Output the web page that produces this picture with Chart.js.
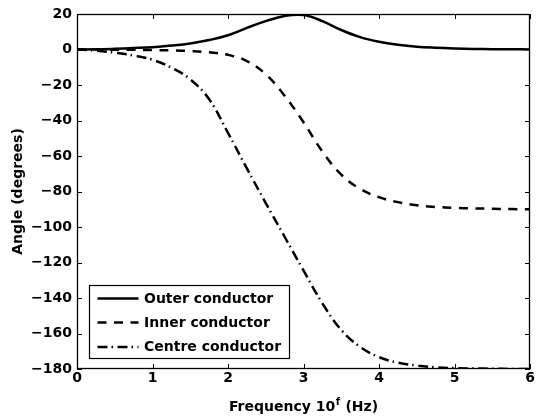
<!DOCTYPE html>
<html>
<head>
<meta charset="utf-8">
<script src="https://cdn.jsdelivr.net/npm/chart.js@4/dist/chart.umd.min.js"></script>
<style>
  html, body { margin: 0; padding: 0; background: #fff; }
  #wrap { width: 537px; height: 419px; position: relative; }
</style>
</head>
<body>
<div id="wrap"><canvas id="c"></canvas></div>
<script>
// Frequency exponent f (Hz = 10^f)
const freq = [0, 0.25, 0.5, 0.75, 1, 1.25, 1.5, 1.75, 2, 2.25, 2.5, 2.75, 3,
              3.25, 3.5, 3.75, 4, 4.25, 4.5, 4.75, 5, 5.25, 5.5, 5.75, 6];

// Phase angle (degrees) of each conductor
const outerAngle  = [0, 0.1, 0.4, 0.8, 1.3, 2.2, 3.4, 5.3, 8.0, 12.2, 16.0, 18.9, 19.4,
                     16.0, 11.0, 7.0, 4.4, 2.7, 1.6, 1.0, 0.6, 0.35, 0.2, 0.1, 0.05];
const innerAngle  = [0, 0, -0.1, -0.2, -0.3, -0.5, -0.9, -1.6, -3.0, -6.5, -14, -26, -41,
                     -57.5, -70.5, -78.5, -83.2, -86, -87.8, -88.7, -89.2, -89.5, -89.7, -89.9, -90];
const centreAngle = [0, -0.6, -1.8, -3.4, -5.8, -10.2, -16.8, -28, -47, -67, -86.5, -105.5, -124.5,
                     -143, -158, -167.5, -173.3, -176.4, -178, -179, -179.5, -179.7, -179.85, -179.95, -180];

const seriesNames = ['Outer conductor', 'Inner conductor', 'Centre conductor'];

// Axis ticks
const xTickValues = [0, 1, 2, 3, 4, 5, 6];
const yTickValues = [20, 0, -20, -40, -60, -80, -100, -120, -140, -160, -180];

const FONT = '"DejaVu Sans", "Liberation Sans", sans-serif';
const dashStyles = [[], [9, 7.5], [10, 4, 1.5, 4.5]];

function toPoints(vals) {
  return freq.map((f, i) => ({ x: f, y: vals[i] }));
}

// Box frame with inward tick marks on all four sides
const framePlugin = {
  id: 'frame',
  afterDatasetsDraw(chart) {
    const { ctx, chartArea: a, scales: { x, y } } = chart;
    const L = 5;
    ctx.save();
    ctx.strokeStyle = '#000';
    ctx.lineWidth = 1;
    ctx.beginPath();
    xTickValues.forEach(v => {
      const px = Math.round(x.getPixelForValue(v)) + 0.5;
      ctx.moveTo(px, a.bottom); ctx.lineTo(px, a.bottom - L);
      ctx.moveTo(px, a.top); ctx.lineTo(px, a.top + L);
    });
    yTickValues.forEach(v => {
      const py = Math.round(y.getPixelForValue(v)) + 0.5;
      ctx.moveTo(a.left, py); ctx.lineTo(a.left + L, py);
      ctx.moveTo(a.right, py); ctx.lineTo(a.right - L, py);
    });
    ctx.stroke();
    ctx.lineWidth = 1.3;
    ctx.strokeRect(a.left + 0.5, a.top + 0.5, a.right - a.left - 1, a.bottom - a.top - 1);
    ctx.restore();
  }
};

// Boxed legend in the lower-left corner of the plot
const boxLegendPlugin = {
  id: 'boxLegend',
  afterDraw(chart) {
    const { ctx, chartArea: a } = chart;
    const bx = a.left + 12, by = a.bottom - 84, bw = 200, bh = 73;
    ctx.save();
    ctx.fillStyle = '#fff';
    ctx.fillRect(bx, by, bw, bh);
    ctx.strokeStyle = '#000';
    ctx.lineWidth = 1.2;
    ctx.strokeRect(bx + 0.5, by + 0.5, bw, bh);
    const rows = [13.5, 37.5, 62];
    chart.data.datasets.forEach((ds, i) => {
      const yy = by + rows[i];
      ctx.beginPath();
      ctx.setLineDash(ds.borderDash || []);
      ctx.lineWidth = ds.borderWidth;
      ctx.strokeStyle = ds.borderColor;
      ctx.moveTo(bx + 8.5, yy);
      ctx.lineTo(bx + 49.5, yy);
      ctx.stroke();
      ctx.setLineDash([]);
      ctx.fillStyle = '#000';
      ctx.font = 'bold 14px ' + FONT;
      ctx.textBaseline = 'middle';
      ctx.textAlign = 'left';
      ctx.fillText(ds.label, bx + 55, yy + 0.5);
    });
    ctx.restore();
  }
};

// X-axis title with a superscript exponent
const xTitlePlugin = {
  id: 'xTitle',
  afterDraw(chart) {
    const { ctx, chartArea: a } = chart;
    const main1 = 'Frequency 10', sup = 'f', main2 = ' (Hz)';
    ctx.save();
    ctx.fillStyle = '#000';
    ctx.textBaseline = 'alphabetic';
    ctx.textAlign = 'left';
    const big = 'bold 14px ' + FONT, small = 'bold 10px ' + FONT;
    ctx.font = big; const w1 = ctx.measureText(main1).width, w3 = ctx.measureText(main2).width;
    ctx.font = small; const w2 = ctx.measureText(sup).width;
    const total = w1 + w2 + 1 + w3;
    let xx = (a.left + a.right) / 2 - total / 2;
    const base = 411;
    ctx.font = big; ctx.fillText(main1, xx, base); xx += w1 + 0.5;
    ctx.font = small; ctx.fillText(sup, xx, base - 6); xx += w2 + 0.5;
    ctx.font = big; ctx.fillText(main2, xx, base);
    ctx.restore();
  }
};

Chart.defaults.font.family = FONT;
Chart.defaults.color = '#000';

new Chart(document.getElementById('c'), {
  type: 'line',
  data: {
    datasets: [outerAngle, innerAngle, centreAngle].map((vals, i) => ({
      label: seriesNames[i],
      data: toPoints(vals),
      borderColor: '#000',
      borderWidth: 2.5,
      borderDash: dashStyles[i],
      pointRadius: 0,
      fill: false,
      tension: 0.4
    }))
  },
  options: {
    responsive: true,
    maintainAspectRatio: false,
    animation: false,
    events: [],
    layout: { padding: { left: 0, right: 7, top: 14, bottom: 0 } },
    plugins: { legend: { display: false }, tooltip: { enabled: false } },
    scales: {
      x: {
        type: 'linear',
        min: 0, max: 6,
        afterFit(s) { s.height = 50; },
        afterBuildTicks(s) { s.ticks = xTickValues.map(v => ({ value: v })); },
        grid: { display: false, drawTicks: false },
        border: { display: false },
        ticks: { padding: 1, font: { size: 14, weight: 'bold' }, color: '#000', maxRotation: 0 }
      },
      y: {
        min: -180, max: 20,
        afterFit(s) { s.width = 77; },
        afterBuildTicks(s) { s.ticks = yTickValues.map(v => ({ value: v })); },
        grid: { display: false, drawTicks: false },
        border: { display: false },
        ticks: {
          padding: 5,
          font: { size: 14, weight: 'bold' },
          color: '#000',
          callback: v => (v < 0 ? '\u2212' + Math.abs(v) : String(v))
        },
        title: {
          display: true,
          text: 'Angle (degrees)',
          font: { size: 14, weight: 'bold' },
          color: '#000',
          padding: { top: 10, bottom: 0 }
        }
      }
    }
  },
  plugins: [framePlugin, boxLegendPlugin, xTitlePlugin]
});
</script>
</body>
</html>
